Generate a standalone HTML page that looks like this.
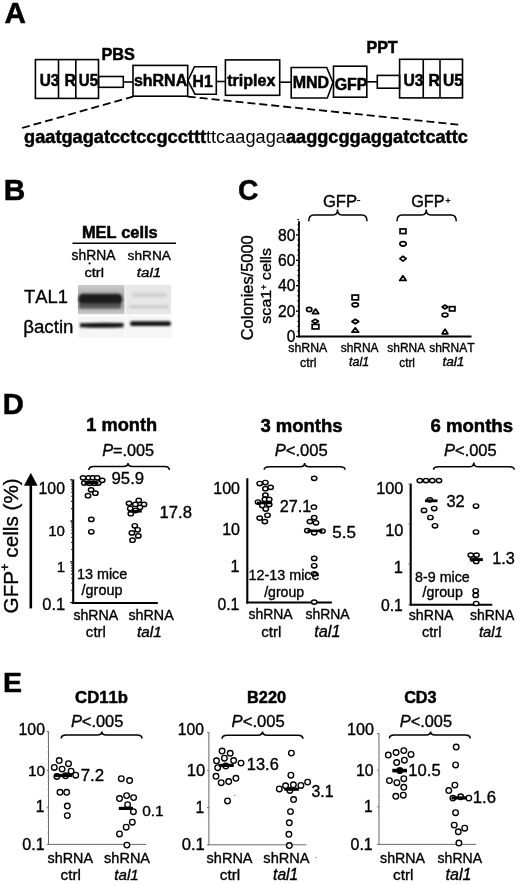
<!DOCTYPE html>
<html><head><meta charset="utf-8"><style>
html,body{margin:0;padding:0;background:#fff;}
svg{display:block;filter:grayscale(100%);}
text{font-family:"Liberation Sans",sans-serif;font-kerning:none;stroke:#000;stroke-width:0.35px;}
tspan[font-weight="bold"]{stroke-width:0.5px;}
tspan.n{stroke-width:0;}
</style></head><body>
<svg width="520" height="884" viewBox="0 0 520 884">
<rect x="0" y="0" width="520" height="884" fill="#fff"/>
<text transform="translate(4.56,22.90) scale(1.0000,1)" font-size="29.66" fill="#000"><tspan font-weight="bold" font-style="normal" y="-0.00">A</tspan></text>
<text transform="translate(101.41,59.80) scale(1.0000,1)" font-size="16.25" fill="#000"><tspan font-weight="bold" font-style="normal" y="-0.00">PBS</tspan></text>
<text transform="translate(366.43,53.00) scale(1.0000,1)" font-size="16.07" fill="#000"><tspan font-weight="bold" font-style="normal" y="-0.00">PPT</tspan></text>
<rect x="35.40" y="59.60" width="63.10" height="38.80" stroke="#000" stroke-width="1.60" fill="none"/>
<line x1="58.50" y1="59.60" x2="58.50" y2="98.40" stroke="#000" stroke-width="1.60" />
<line x1="75.80" y1="59.60" x2="75.80" y2="98.40" stroke="#000" stroke-width="1.60" />
<rect x="98.50" y="76.50" width="24.80" height="10.80" stroke="#000" stroke-width="1.60" fill="none"/>
<line x1="123.30" y1="82.00" x2="133.00" y2="82.00" stroke="#000" stroke-width="1.60" />
<rect x="133.00" y="65.40" width="54.70" height="30.80" stroke="#000" stroke-width="1.60" fill="none"/>
<polygon points="194.50,66.70 216.30,66.70 216.30,94.20 195.00,94.20 187.90,80.70" stroke="#000" stroke-width="1.60" fill="none" stroke-linejoin="miter"/>
<line x1="216.30" y1="81.50" x2="225.40" y2="81.50" stroke="#000" stroke-width="1.60" />
<rect x="225.40" y="59.90" width="54.30" height="35.40" stroke="#000" stroke-width="1.60" fill="none"/>
<line x1="279.70" y1="82.20" x2="291.20" y2="82.20" stroke="#000" stroke-width="1.60" />
<polygon points="291.20,67.50 326.70,67.50 333.00,82.50 327.30,98.00 291.20,98.00" stroke="#000" stroke-width="1.60" fill="none" stroke-linejoin="miter"/>
<rect x="333.50" y="66.20" width="33.30" height="31.00" stroke="#000" stroke-width="1.60" fill="none"/>
<line x1="366.80" y1="81.80" x2="377.30" y2="81.80" stroke="#000" stroke-width="1.60" />
<rect x="377.30" y="75.40" width="22.30" height="12.80" stroke="#000" stroke-width="1.60" fill="none"/>
<rect x="399.60" y="59.30" width="62.90" height="38.60" stroke="#000" stroke-width="1.60" fill="none"/>
<line x1="423.25" y1="59.30" x2="423.25" y2="97.90" stroke="#000" stroke-width="1.60" />
<line x1="440.00" y1="59.30" x2="440.00" y2="97.90" stroke="#000" stroke-width="1.60" />
<text transform="translate(39.68,85.90) scale(0.9504,1)" font-size="16.20" fill="#000"><tspan font-weight="bold" font-style="normal" y="-0.00">U3</tspan></text>
<text transform="translate(64.44,85.90) scale(0.9822,1)" font-size="16.20" fill="#000"><tspan font-weight="bold" font-style="normal" y="-0.00">R</tspan></text>
<text transform="translate(78.80,85.90) scale(0.9282,1)" font-size="16.20" fill="#000"><tspan font-weight="bold" font-style="normal" y="-0.00">U5</tspan></text>
<text transform="translate(133.94,86.20) scale(1.0000,1)" font-size="15.98" fill="#000"><tspan font-weight="bold" font-style="normal" y="-0.00">shRNA</tspan></text>
<text transform="translate(192.55,86.80) scale(1.0000,1)" font-size="15.71" fill="#000"><tspan font-weight="bold" font-style="normal" y="-0.00">H1</tspan></text>
<text transform="translate(227.20,86.40) scale(1.0000,1)" font-size="16.10" fill="#000"><tspan font-weight="bold" font-style="normal" y="-0.00">triplex</tspan></text>
<text transform="translate(292.73,87.70) scale(1.0000,1)" font-size="16.00" fill="#000"><tspan font-weight="bold" font-style="normal" y="-0.00">MND</tspan></text>
<text transform="translate(334.65,89.50) scale(1.0000,1)" font-size="15.96" fill="#000"><tspan font-weight="bold" font-style="normal" y="-0.00">GFP</tspan></text>
<text transform="translate(403.46,86.00) scale(0.9713,1)" font-size="16.20" fill="#000"><tspan font-weight="bold" font-style="normal" y="-0.00">U3</tspan></text>
<text transform="translate(428.55,86.00) scale(0.9725,1)" font-size="16.20" fill="#000"><tspan font-weight="bold" font-style="normal" y="-0.00">R</tspan></text>
<text transform="translate(443.06,86.00) scale(0.9645,1)" font-size="16.20" fill="#000"><tspan font-weight="bold" font-style="normal" y="-0.00">U5</tspan></text>
<line x1="22.00" y1="128.00" x2="133.00" y2="96.60" stroke="#000" stroke-width="1.80" stroke-dasharray="8,4"/>
<line x1="187.70" y1="96.60" x2="462.00" y2="125.00" stroke="#000" stroke-width="1.80" stroke-dasharray="8,4"/>
<text transform="translate(24.05,142.50) scale(0.9784,1)" font-size="18.60" fill="#000"><tspan font-weight="bold" font-style="normal" y="-0.00">gaatgagatcctccgccttt</tspan><tspan font-weight="normal" font-style="normal" y="-0.00" class="n">ttcaagaga</tspan><tspan font-weight="bold" font-style="normal" y="-0.00">aaggcggaggatctcattc</tspan></text>
<text transform="translate(3.80,200.20) scale(1.0000,1)" font-size="29.84" fill="#000"><tspan font-weight="bold" font-style="normal" y="-0.00">B</tspan></text>
<text transform="translate(81.90,238.00) scale(1.0000,1)" font-size="16.43" fill="#000"><tspan font-weight="bold" font-style="normal" y="-0.00">MEL cells</tspan></text>
<line x1="72.50" y1="243.30" x2="176.00" y2="243.30" stroke="#000" stroke-width="1.60" />
<circle cx="89.6" cy="263.4" r="1.15" fill="#111"/>
<text transform="translate(71.61,260.00) scale(1.0000,1)" font-size="13.86" fill="#000"><tspan font-weight="normal" font-style="normal" y="-0.00">shRNA</tspan></text>
<text transform="translate(84.38,277.00) scale(1.0897,1)" font-size="13.50" fill="#000"><tspan font-weight="normal" font-style="normal" y="-0.00">ctrl</tspan></text>
<text transform="translate(127.62,260.00) scale(1.0000,1)" font-size="13.70" fill="#000"><tspan font-weight="normal" font-style="normal" y="-0.00">shRNA</tspan></text>
<text transform="translate(136.81,277.00) scale(1.1243,1)" font-size="13.50" fill="#000"><tspan font-weight="normal" font-style="italic" y="-0.00">tal1</tspan></text>
<text transform="translate(24.09,302.50) scale(1.0000,1)" font-size="18.33" fill="#000"><tspan font-weight="normal" font-style="normal" y="-0.00">TAL1</tspan></text>
<text transform="translate(23.20,332.60) scale(1.0000,1)" font-size="18.72" fill="#000"><tspan font-weight="normal" font-style="normal" y="-0.00">βactin</tspan></text>
<defs>
<filter id="bl1" x="-20%" y="-50%" width="140%" height="200%"><feGaussianBlur stdDeviation="1.3"/></filter>
<filter id="bl2" x="-20%" y="-80%" width="140%" height="260%"><feGaussianBlur stdDeviation="0.9"/></filter>
<filter id="bl3" x="-20%" y="-80%" width="140%" height="260%"><feGaussianBlur stdDeviation="1.8"/></filter>
<filter id="bl4" x="-5%" y="-5%" width="110%" height="110%"><feGaussianBlur stdDeviation="0.5"/></filter>
<linearGradient id="gL" x1="0" y1="0" x2="0" y2="1">
<stop offset="0" stop-color="#cbcbcb"/><stop offset="0.25" stop-color="#b4b4b4"/><stop offset="0.75" stop-color="#a6a6a6"/><stop offset="1" stop-color="#cdcdcd"/></linearGradient>
</defs>
<g filter="url(#bl4)"><rect x="78" y="285" width="46.5" height="29.3" fill="url(#gL)"/><rect x="125.5" y="285" width="45.5" height="29.3" fill="#e7e7e7"/><rect x="78" y="316.3" width="46.5" height="21.5" fill="#f5f5f5"/><rect x="125.5" y="316.3" width="46" height="21.5" fill="#f6f6f6"/></g>
<g filter="url(#bl1)"><rect x="78.5" y="293.8" width="43.8" height="11" rx="4.5" fill="#1c1c1c"/><rect x="79" y="303.5" width="42" height="5" rx="2" fill="#555"/></g>
<g filter="url(#bl3)"><rect x="132" y="293" width="35" height="4" rx="2" fill="#cdcdcd"/><rect x="129" y="305.5" width="40" height="2.5" rx="1.2" fill="#c2c2c2"/></g>
<g filter="url(#bl2)"><path d="M80,323.2 Q101,322.2 123.5,323 L123.5,327.2 Q101,328.4 80,327.2 Z" fill="#161616"/><rect x="130" y="321.3" width="41" height="4.6" rx="2.2" fill="#161616"/></g>
<text transform="translate(238.04,199.70) scale(0.9624,1)" font-size="29.40" fill="#000"><tspan font-weight="bold" font-style="normal" y="-0.00">C</tspan></text>
<text transform="translate(322.91,207.00) scale(1.0000,1)" font-size="16.64" fill="#000"><tspan font-weight="normal" font-style="normal" y="-0.00">GFP</tspan></text>
<line x1="357.00" y1="200.60" x2="360.20" y2="200.60" stroke="#000" stroke-width="1.00" />
<text transform="translate(411.18,207.00) scale(1.0000,1)" font-size="16.26" fill="#000"><tspan font-weight="normal" font-style="normal" y="-0.00">GFP</tspan></text>
<line x1="445.60" y1="200.60" x2="450.40" y2="200.60" stroke="#000" stroke-width="1.00" />
<line x1="448.00" y1="198.20" x2="448.00" y2="203.00" stroke="#000" stroke-width="1.00" />
<path d="M308.75,221.25 Q308.75,215.00 313.75,215.00 L333.00,215.00 Q337.50,215.00 337.50,209.50 Q337.50,215.00 342.00,215.00 L362.00,215.00 Q367.00,215.00 367.00,221.25" stroke="#000" stroke-width="1.50" fill="none"/>
<path d="M397.00,221.25 Q397.00,215.00 402.00,215.00 L421.75,215.00 Q426.25,215.00 426.25,209.50 Q426.25,215.00 430.75,215.00 L451.25,215.00 Q456.25,215.00 456.25,221.25" stroke="#000" stroke-width="1.50" fill="none"/>
<line x1="299.00" y1="221.20" x2="299.00" y2="337.50" stroke="#000" stroke-width="1.80" />
<line x1="298.10" y1="336.40" x2="471.50" y2="336.40" stroke="#000" stroke-width="2.00" />
<line x1="296.00" y1="336.50" x2="299.00" y2="336.50" stroke="#000" stroke-width="1.40" />
<line x1="297.40" y1="331.42" x2="299.00" y2="331.42" stroke="#000" stroke-width="1.20" />
<line x1="297.40" y1="326.34" x2="299.00" y2="326.34" stroke="#000" stroke-width="1.20" />
<line x1="297.40" y1="321.26" x2="299.00" y2="321.26" stroke="#000" stroke-width="1.20" />
<line x1="297.40" y1="316.18" x2="299.00" y2="316.18" stroke="#000" stroke-width="1.20" />
<line x1="296.00" y1="311.10" x2="299.00" y2="311.10" stroke="#000" stroke-width="1.40" />
<line x1="297.40" y1="306.02" x2="299.00" y2="306.02" stroke="#000" stroke-width="1.20" />
<line x1="297.40" y1="300.94" x2="299.00" y2="300.94" stroke="#000" stroke-width="1.20" />
<line x1="297.40" y1="295.86" x2="299.00" y2="295.86" stroke="#000" stroke-width="1.20" />
<line x1="297.40" y1="290.78" x2="299.00" y2="290.78" stroke="#000" stroke-width="1.20" />
<line x1="296.00" y1="285.70" x2="299.00" y2="285.70" stroke="#000" stroke-width="1.40" />
<line x1="297.40" y1="280.62" x2="299.00" y2="280.62" stroke="#000" stroke-width="1.20" />
<line x1="297.40" y1="275.54" x2="299.00" y2="275.54" stroke="#000" stroke-width="1.20" />
<line x1="297.40" y1="270.46" x2="299.00" y2="270.46" stroke="#000" stroke-width="1.20" />
<line x1="297.40" y1="265.38" x2="299.00" y2="265.38" stroke="#000" stroke-width="1.20" />
<line x1="296.00" y1="260.30" x2="299.00" y2="260.30" stroke="#000" stroke-width="1.40" />
<line x1="297.40" y1="255.22" x2="299.00" y2="255.22" stroke="#000" stroke-width="1.20" />
<line x1="297.40" y1="250.14" x2="299.00" y2="250.14" stroke="#000" stroke-width="1.20" />
<line x1="297.40" y1="245.06" x2="299.00" y2="245.06" stroke="#000" stroke-width="1.20" />
<line x1="297.40" y1="239.98" x2="299.00" y2="239.98" stroke="#000" stroke-width="1.20" />
<line x1="296.00" y1="234.90" x2="299.00" y2="234.90" stroke="#000" stroke-width="1.40" />
<line x1="297.40" y1="229.82" x2="299.00" y2="229.82" stroke="#000" stroke-width="1.20" />
<line x1="297.40" y1="224.74" x2="299.00" y2="224.74" stroke="#000" stroke-width="1.20" />
<line x1="297.40" y1="219.66" x2="299.00" y2="219.66" stroke="#000" stroke-width="1.20" />
<text transform="translate(278.06,240.50) scale(1.0000,1)" font-size="15.60" fill="#000"><tspan font-weight="normal" font-style="normal" y="-0.00">80</tspan></text>
<text transform="translate(278.06,265.90) scale(1.0000,1)" font-size="15.60" fill="#000"><tspan font-weight="normal" font-style="normal" y="-0.00">60</tspan></text>
<text transform="translate(278.06,291.30) scale(1.0000,1)" font-size="15.60" fill="#000"><tspan font-weight="normal" font-style="normal" y="-0.00">40</tspan></text>
<text transform="translate(278.06,316.70) scale(1.0000,1)" font-size="15.60" fill="#000"><tspan font-weight="normal" font-style="normal" y="-0.00">20</tspan></text>
<text transform="translate(286.73,342.10) scale(1.0000,1)" font-size="15.60" fill="#000"><tspan font-weight="normal" font-style="normal" y="-0.00">0</tspan></text>
<text transform="translate(252.60,340.23) rotate(-90) scale(0.9998,1)" font-size="16.42"><tspan font-weight="normal" font-style="normal" y="-0.00">Colonies/5000</tspan></text>
<text transform="translate(271.20,323.65) rotate(-90) scale(1.0559,1)" font-size="15.20"><tspan font-weight="normal" font-style="normal" y="-0.00">sca1</tspan><tspan font-weight="normal" font-style="normal" y="-4.56" font-size="8.36">+</tspan><tspan font-weight="normal" font-style="normal" y="-0.00"> cells</tspan></text>
<text transform="translate(288.36,352.30) scale(1.0000,1)" font-size="12.30" fill="#000"><tspan font-weight="normal" font-style="normal" y="-0.00">shRNA</tspan></text>
<text transform="translate(299.97,367.00) scale(0.9769,1)" font-size="12.80" fill="#000"><tspan font-weight="normal" font-style="normal" y="-0.00">ctrl</tspan></text>
<text transform="translate(340.67,352.30) scale(1.0000,1)" font-size="11.95" fill="#000"><tspan font-weight="normal" font-style="normal" y="-0.00">shRNA</tspan></text>
<text transform="translate(349.04,366.40) scale(0.9697,1)" font-size="12.80" fill="#000"><tspan font-weight="normal" font-style="italic" y="-0.00">tal1</tspan></text>
<text transform="translate(387.37,352.30) scale(1.0000,1)" font-size="11.95" fill="#000"><tspan font-weight="normal" font-style="normal" y="-0.00">shRNA</tspan></text>
<text transform="translate(399.30,367.00) scale(0.9194,1)" font-size="12.80" fill="#000"><tspan font-weight="normal" font-style="normal" y="-0.00">ctrl</tspan></text>
<text transform="translate(429.17,352.30) scale(1.0000,1)" font-size="11.99" fill="#000"><tspan font-weight="normal" font-style="normal" y="-0.00">shRNAT</tspan></text>
<text transform="translate(442.38,366.40) scale(1.0698,1)" font-size="12.80" fill="#000"><tspan font-weight="normal" font-style="italic" y="-0.00">tal1</tspan></text>
<ellipse cx="309.20" cy="309.50" rx="2.65" ry="2.15" stroke="#000" stroke-width="1.70" fill="#fff"/>
<polygon points="315.60,308.85 318.75,313.55 312.45,313.55" stroke="#000" stroke-width="1.70" fill="#fff" stroke-linejoin="round"/>
<polygon points="315.20,319.15 318.45,321.30 315.20,323.45 311.95,321.30" stroke="#000" stroke-width="1.70" fill="#fff" stroke-linejoin="round"/>
<rect x="312.15" y="324.45" width="6.70" height="4.50" stroke="#000" stroke-width="1.70" fill="#fff"/>
<rect x="352.05" y="295.05" width="6.40" height="4.80" stroke="#000" stroke-width="1.70" fill="#fff"/>
<ellipse cx="355.25" cy="304.85" rx="3.20" ry="1.95" stroke="#000" stroke-width="1.70" fill="#fff"/>
<polygon points="355.30,319.20 358.70,321.50 355.30,323.80 351.90,321.50" stroke="#000" stroke-width="1.70" fill="#fff" stroke-linejoin="round"/>
<polygon points="355.30,327.80 358.70,332.20 351.90,332.20" stroke="#000" stroke-width="1.70" fill="#fff" stroke-linejoin="round"/>
<rect x="400.05" y="228.95" width="5.90" height="4.60" stroke="#000" stroke-width="1.70" fill="#fff"/>
<ellipse cx="403.00" cy="243.80" rx="3.15" ry="2.25" stroke="#000" stroke-width="1.70" fill="#fff"/>
<polygon points="403.00,256.25 406.15,258.70 403.00,261.15 399.85,258.70" stroke="#000" stroke-width="1.70" fill="#fff" stroke-linejoin="round"/>
<polygon points="402.90,275.75 406.15,280.45 399.65,280.45" stroke="#000" stroke-width="1.70" fill="#fff" stroke-linejoin="round"/>
<polygon points="445.00,305.05 447.85,307.00 445.00,308.95 442.15,307.00" stroke="#000" stroke-width="1.70" fill="#fff" stroke-linejoin="round"/>
<rect x="449.45" y="306.65" width="5.50" height="4.30" stroke="#000" stroke-width="1.70" fill="#fff"/>
<ellipse cx="445.00" cy="314.90" rx="2.90" ry="1.90" stroke="#000" stroke-width="1.70" fill="#fff"/>
<polygon points="445.00,329.20 447.90,333.80 442.10,333.80" stroke="#000" stroke-width="1.70" fill="#fff" stroke-linejoin="round"/>
<text transform="translate(2.85,414.00) scale(1.0000,1)" font-size="29.19" fill="#000"><tspan font-weight="bold" font-style="normal" y="-0.00">D</tspan></text>
<line x1="30.80" y1="484.00" x2="30.80" y2="608.40" stroke="#000" stroke-width="2.60" />
<polygon points="30.80,473.40 37.20,485.40 24.40,485.40" stroke="#000" stroke-width="0.60" fill="#000" stroke-linejoin="miter"/>
<text transform="translate(18.10,613.44) rotate(-90) scale(0.9863,1)" font-size="21.00"><tspan font-weight="normal" font-style="normal" y="-0.00">GFP</tspan><tspan font-weight="normal" font-style="normal" y="-8.82" font-size="13.02">+</tspan><tspan font-weight="normal" font-style="normal" y="-0.00"> cells (%)</tspan></text>
<text transform="translate(86.25,431.20) scale(1.0000,1)" font-size="18.23" fill="#000"><tspan font-weight="bold" font-style="normal" y="-0.00">1 month</tspan></text>
<text transform="translate(102.20,456.20) scale(1.0000,1)" font-size="16.26" fill="#000"><tspan font-weight="normal" font-style="italic" y="-0.00">P</tspan><tspan font-weight="normal" font-style="normal" y="-0.00">=.005</tspan></text>
<path d="M88.80,470.00 Q88.80,466.50 93.80,466.50 L123.50,466.50 Q128.00,466.50 128.00,463.00 Q128.00,466.50 132.50,466.50 L164.40,466.50 Q169.40,466.50 169.40,470.00" stroke="#000" stroke-width="1.50" fill="none"/>
<line x1="73.20" y1="479.40" x2="73.20" y2="604.00" stroke="#000" stroke-width="2.10" />
<line x1="72.20" y1="603.00" x2="157.80" y2="603.00" stroke="#000" stroke-width="2.10" />
<line x1="70.30" y1="479.80" x2="72.20" y2="479.80" stroke="#000" stroke-width="1.30" />
<line x1="70.30" y1="521.00" x2="72.20" y2="521.00" stroke="#000" stroke-width="1.30" />
<line x1="70.30" y1="561.80" x2="72.20" y2="561.80" stroke="#000" stroke-width="1.30" />
<line x1="70.30" y1="602.60" x2="72.20" y2="602.60" stroke="#000" stroke-width="1.30" />
<line x1="71.20" y1="508.60" x2="72.20" y2="508.60" stroke="#000" stroke-width="1.10" />
<line x1="71.20" y1="501.34" x2="72.20" y2="501.34" stroke="#000" stroke-width="1.10" />
<line x1="71.20" y1="496.20" x2="72.20" y2="496.20" stroke="#000" stroke-width="1.10" />
<line x1="71.20" y1="492.20" x2="72.20" y2="492.20" stroke="#000" stroke-width="1.10" />
<line x1="71.20" y1="488.94" x2="72.20" y2="488.94" stroke="#000" stroke-width="1.10" />
<line x1="71.20" y1="486.18" x2="72.20" y2="486.18" stroke="#000" stroke-width="1.10" />
<line x1="71.20" y1="483.79" x2="72.20" y2="483.79" stroke="#000" stroke-width="1.10" />
<line x1="71.20" y1="481.69" x2="72.20" y2="481.69" stroke="#000" stroke-width="1.10" />
<line x1="71.20" y1="549.52" x2="72.20" y2="549.52" stroke="#000" stroke-width="1.10" />
<line x1="71.20" y1="542.33" x2="72.20" y2="542.33" stroke="#000" stroke-width="1.10" />
<line x1="71.20" y1="537.24" x2="72.20" y2="537.24" stroke="#000" stroke-width="1.10" />
<line x1="71.20" y1="533.28" x2="72.20" y2="533.28" stroke="#000" stroke-width="1.10" />
<line x1="71.20" y1="530.05" x2="72.20" y2="530.05" stroke="#000" stroke-width="1.10" />
<line x1="71.20" y1="527.32" x2="72.20" y2="527.32" stroke="#000" stroke-width="1.10" />
<line x1="71.20" y1="524.95" x2="72.20" y2="524.95" stroke="#000" stroke-width="1.10" />
<line x1="71.20" y1="522.87" x2="72.20" y2="522.87" stroke="#000" stroke-width="1.10" />
<line x1="71.20" y1="590.32" x2="72.20" y2="590.32" stroke="#000" stroke-width="1.10" />
<line x1="71.20" y1="583.13" x2="72.20" y2="583.13" stroke="#000" stroke-width="1.10" />
<line x1="71.20" y1="578.04" x2="72.20" y2="578.04" stroke="#000" stroke-width="1.10" />
<line x1="71.20" y1="574.08" x2="72.20" y2="574.08" stroke="#000" stroke-width="1.10" />
<line x1="71.20" y1="570.85" x2="72.20" y2="570.85" stroke="#000" stroke-width="1.10" />
<line x1="71.20" y1="568.12" x2="72.20" y2="568.12" stroke="#000" stroke-width="1.10" />
<line x1="71.20" y1="565.75" x2="72.20" y2="565.75" stroke="#000" stroke-width="1.10" />
<line x1="71.20" y1="563.67" x2="72.20" y2="563.67" stroke="#000" stroke-width="1.10" />
<text transform="translate(38.60,493.70) scale(1.0000,1)" font-size="15.77" fill="#000"><tspan font-weight="normal" font-style="normal" y="-0.00">100</tspan></text>
<text transform="translate(48.15,535.50) scale(1.0000,1)" font-size="15.04" fill="#000"><tspan font-weight="normal" font-style="normal" y="-0.00">10</tspan></text>
<text transform="translate(56.67,572.00) scale(1.0000,1)" font-size="15.04" fill="#000"><tspan font-weight="normal" font-style="normal" y="-0.00">1</tspan></text>
<text transform="translate(42.26,609.70) scale(1.0000,1)" font-size="16.43" fill="#000"><tspan font-weight="normal" font-style="normal" y="-0.00">0.1</tspan></text>
<ellipse cx="89.50" cy="483.30" rx="2.70" ry="2.15" stroke="#000" stroke-width="1.45" fill="#fff"/>
<ellipse cx="94.50" cy="483.30" rx="2.70" ry="2.15" stroke="#000" stroke-width="1.45" fill="#fff"/>
<ellipse cx="98.30" cy="483.00" rx="2.70" ry="2.15" stroke="#000" stroke-width="1.45" fill="#fff"/>
<ellipse cx="83.10" cy="477.80" rx="2.70" ry="2.15" stroke="#000" stroke-width="1.45" fill="#fff"/>
<ellipse cx="88.60" cy="477.80" rx="2.70" ry="2.15" stroke="#000" stroke-width="1.45" fill="#fff"/>
<ellipse cx="92.90" cy="477.80" rx="2.70" ry="2.15" stroke="#000" stroke-width="1.45" fill="#fff"/>
<ellipse cx="97.20" cy="477.80" rx="2.70" ry="2.15" stroke="#000" stroke-width="1.45" fill="#fff"/>
<ellipse cx="102.20" cy="480.30" rx="2.70" ry="2.15" stroke="#000" stroke-width="1.45" fill="#fff"/>
<ellipse cx="84.30" cy="483.10" rx="2.70" ry="2.15" stroke="#000" stroke-width="1.45" fill="#fff"/>
<ellipse cx="91.10" cy="489.80" rx="2.70" ry="2.15" stroke="#000" stroke-width="1.45" fill="#fff"/>
<ellipse cx="95.40" cy="493.20" rx="2.70" ry="2.15" stroke="#000" stroke-width="1.45" fill="#fff"/>
<ellipse cx="88.00" cy="495.70" rx="2.70" ry="2.15" stroke="#000" stroke-width="1.45" fill="#fff"/>
<ellipse cx="91.30" cy="519.40" rx="2.70" ry="2.15" stroke="#000" stroke-width="1.45" fill="#fff"/>
<ellipse cx="91.30" cy="531.80" rx="2.70" ry="2.15" stroke="#000" stroke-width="1.45" fill="#fff"/>
<line x1="84.50" y1="483.00" x2="98.50" y2="483.00" stroke="#000" stroke-width="2.60" />
<ellipse cx="135.50" cy="510.50" rx="2.70" ry="2.15" stroke="#000" stroke-width="1.45" fill="#fff"/>
<ellipse cx="129.00" cy="503.30" rx="2.70" ry="2.15" stroke="#000" stroke-width="1.45" fill="#fff"/>
<ellipse cx="138.80" cy="500.40" rx="2.70" ry="2.15" stroke="#000" stroke-width="1.45" fill="#fff"/>
<ellipse cx="135.40" cy="504.40" rx="2.70" ry="2.15" stroke="#000" stroke-width="1.45" fill="#fff"/>
<ellipse cx="144.00" cy="504.40" rx="2.70" ry="2.15" stroke="#000" stroke-width="1.45" fill="#fff"/>
<ellipse cx="130.20" cy="508.50" rx="2.70" ry="2.15" stroke="#000" stroke-width="1.45" fill="#fff"/>
<ellipse cx="140.00" cy="507.30" rx="2.70" ry="2.15" stroke="#000" stroke-width="1.45" fill="#fff"/>
<ellipse cx="130.80" cy="513.70" rx="2.70" ry="2.15" stroke="#000" stroke-width="1.45" fill="#fff"/>
<ellipse cx="134.80" cy="525.80" rx="2.70" ry="2.15" stroke="#000" stroke-width="1.45" fill="#fff"/>
<ellipse cx="137.70" cy="529.80" rx="2.70" ry="2.15" stroke="#000" stroke-width="1.45" fill="#fff"/>
<ellipse cx="131.90" cy="532.90" rx="2.70" ry="2.15" stroke="#000" stroke-width="1.45" fill="#fff"/>
<ellipse cx="138.30" cy="535.90" rx="2.70" ry="2.15" stroke="#000" stroke-width="1.45" fill="#fff"/>
<ellipse cx="132.50" cy="540.20" rx="2.70" ry="2.15" stroke="#000" stroke-width="1.45" fill="#fff"/>
<line x1="128.50" y1="511.30" x2="141.70" y2="511.30" stroke="#000" stroke-width="2.60" />
<text transform="translate(111.51,484.40) scale(1.0000,1)" font-size="16.79" fill="#000"><tspan font-weight="normal" font-style="normal" y="-0.00">95.9</tspan></text>
<text transform="translate(159.43,517.80) scale(1.0000,1)" font-size="16.70" fill="#000"><tspan font-weight="normal" font-style="normal" y="-0.00">17.8</tspan></text>
<text transform="translate(76.90,579.00) scale(1.0000,1)" font-size="14.40" fill="#000"><tspan font-weight="normal" font-style="normal" y="-0.00">13 mice</tspan></text>
<text transform="translate(81.60,594.90) scale(1.0279,1)" font-size="14.00" fill="#000"><tspan font-weight="normal" font-style="normal" y="-0.00">/group</tspan></text>
<text transform="translate(73.41,620.30) scale(1.0000,1)" font-size="14.15" fill="#000"><tspan font-weight="normal" font-style="normal" y="-0.00">shRNA</tspan></text>
<text transform="translate(85.86,637.20) scale(1.0000,1)" font-size="15.04" fill="#000"><tspan font-weight="normal" font-style="normal" y="-0.00">ctrl</tspan></text>
<text transform="translate(128.40,619.60) scale(1.0000,1)" font-size="14.31" fill="#000"><tspan font-weight="normal" font-style="normal" y="-0.00">shRNA</tspan></text>
<text transform="translate(137.00,636.60) scale(1.0000,1)" font-size="15.38" fill="#000"><tspan font-weight="normal" font-style="italic" y="-0.00">tal1</tspan></text>
<text transform="translate(260.38,432.20) scale(1.0000,1)" font-size="18.51" fill="#000"><tspan font-weight="bold" font-style="normal" y="-0.00">3 months</tspan></text>
<text transform="translate(274.69,456.20) scale(1.0000,1)" font-size="16.61" fill="#000"><tspan font-weight="normal" font-style="italic" y="-0.00">P</tspan><tspan font-weight="normal" font-style="normal" y="-0.00">&lt;.005</tspan></text>
<path d="M264.20,469.70 Q264.20,466.80 269.20,466.80 L300.10,466.80 Q304.60,466.80 304.60,463.00 Q304.60,466.80 309.10,466.80 L340.00,466.80 Q345.00,466.80 345.00,469.70" stroke="#000" stroke-width="1.50" fill="none"/>
<line x1="247.30" y1="478.20" x2="247.30" y2="603.50" stroke="#000" stroke-width="2.10" />
<line x1="246.30" y1="602.50" x2="331.90" y2="602.50" stroke="#000" stroke-width="2.10" />
<text transform="translate(213.28,494.30) scale(1.0000,1)" font-size="16.03" fill="#000"><tspan font-weight="normal" font-style="normal" y="-0.00">100</tspan></text>
<text transform="translate(222.18,535.20) scale(1.0000,1)" font-size="16.05" fill="#000"><tspan font-weight="normal" font-style="normal" y="-0.00">10</tspan></text>
<text transform="translate(230.46,571.60) scale(1.0000,1)" font-size="16.05" fill="#000"><tspan font-weight="normal" font-style="normal" y="-0.00">1</tspan></text>
<text transform="translate(217.49,609.70) scale(1.0000,1)" font-size="15.74" fill="#000"><tspan font-weight="normal" font-style="normal" y="-0.00">0.1</tspan></text>
<ellipse cx="259.70" cy="483.50" rx="2.70" ry="2.15" stroke="#000" stroke-width="1.45" fill="#fff"/>
<ellipse cx="265.40" cy="482.50" rx="2.70" ry="2.15" stroke="#000" stroke-width="1.45" fill="#fff"/>
<ellipse cx="265.40" cy="488.70" rx="2.70" ry="2.15" stroke="#000" stroke-width="1.45" fill="#fff"/>
<ellipse cx="270.60" cy="487.30" rx="2.70" ry="2.15" stroke="#000" stroke-width="1.45" fill="#fff"/>
<ellipse cx="265.40" cy="495.10" rx="2.70" ry="2.15" stroke="#000" stroke-width="1.45" fill="#fff"/>
<ellipse cx="264.90" cy="499.40" rx="2.70" ry="2.15" stroke="#000" stroke-width="1.45" fill="#fff"/>
<ellipse cx="269.20" cy="499.40" rx="2.70" ry="2.15" stroke="#000" stroke-width="1.45" fill="#fff"/>
<ellipse cx="258.00" cy="502.00" rx="2.70" ry="2.15" stroke="#000" stroke-width="1.45" fill="#fff"/>
<ellipse cx="262.30" cy="505.50" rx="2.70" ry="2.15" stroke="#000" stroke-width="1.45" fill="#fff"/>
<ellipse cx="269.20" cy="504.60" rx="2.70" ry="2.15" stroke="#000" stroke-width="1.45" fill="#fff"/>
<ellipse cx="265.80" cy="509.00" rx="2.70" ry="2.15" stroke="#000" stroke-width="1.45" fill="#fff"/>
<ellipse cx="267.50" cy="515.30" rx="2.70" ry="2.15" stroke="#000" stroke-width="1.45" fill="#fff"/>
<ellipse cx="259.70" cy="518.10" rx="2.70" ry="2.15" stroke="#000" stroke-width="1.45" fill="#fff"/>
<ellipse cx="264.90" cy="521.60" rx="2.70" ry="2.15" stroke="#000" stroke-width="1.45" fill="#fff"/>
<line x1="257.00" y1="502.90" x2="271.80" y2="502.90" stroke="#000" stroke-width="2.60" />
<ellipse cx="314.20" cy="478.30" rx="2.70" ry="2.15" stroke="#000" stroke-width="1.45" fill="#fff"/>
<ellipse cx="313.90" cy="507.20" rx="2.70" ry="2.15" stroke="#000" stroke-width="1.45" fill="#fff"/>
<ellipse cx="314.20" cy="517.60" rx="2.70" ry="2.15" stroke="#000" stroke-width="1.45" fill="#fff"/>
<ellipse cx="309.90" cy="521.60" rx="2.70" ry="2.15" stroke="#000" stroke-width="1.45" fill="#fff"/>
<ellipse cx="316.00" cy="522.80" rx="2.70" ry="2.15" stroke="#000" stroke-width="1.45" fill="#fff"/>
<ellipse cx="307.30" cy="530.60" rx="2.70" ry="2.15" stroke="#000" stroke-width="1.45" fill="#fff"/>
<ellipse cx="314.20" cy="532.80" rx="2.70" ry="2.15" stroke="#000" stroke-width="1.45" fill="#fff"/>
<ellipse cx="322.50" cy="531.00" rx="2.70" ry="2.15" stroke="#000" stroke-width="1.45" fill="#fff"/>
<ellipse cx="314.20" cy="558.40" rx="2.70" ry="2.15" stroke="#000" stroke-width="1.45" fill="#fff"/>
<ellipse cx="314.20" cy="565.80" rx="2.70" ry="2.15" stroke="#000" stroke-width="1.45" fill="#fff"/>
<ellipse cx="314.20" cy="573.80" rx="2.70" ry="2.15" stroke="#000" stroke-width="1.45" fill="#fff"/>
<ellipse cx="314.20" cy="602.10" rx="2.70" ry="2.15" stroke="#000" stroke-width="1.45" fill="#fff"/>
<line x1="307.50" y1="530.80" x2="322.50" y2="530.80" stroke="#000" stroke-width="2.60" />
<text transform="translate(279.69,511.50) scale(1.0000,1)" font-size="16.19" fill="#000"><tspan font-weight="normal" font-style="normal" y="-0.00">27.1</tspan></text>
<text transform="translate(332.32,537.50) scale(1.0000,1)" font-size="17.05" fill="#000"><tspan font-weight="normal" font-style="normal" y="-0.00">5.5</tspan></text>
<text transform="translate(248.61,580.30) scale(1.0000,1)" font-size="14.34" fill="#000"><tspan font-weight="normal" font-style="normal" y="-0.00">12-13 mice</tspan></text>
<text transform="translate(264.20,596.90) scale(1.0049,1)" font-size="14.00" fill="#000"><tspan font-weight="normal" font-style="normal" y="-0.00">/group</tspan></text>
<text transform="translate(248.41,618.90) scale(1.0000,1)" font-size="13.96" fill="#000"><tspan font-weight="normal" font-style="normal" y="-0.00">shRNA</tspan></text>
<text transform="translate(261.26,636.60) scale(1.0000,1)" font-size="15.12" fill="#000"><tspan font-weight="normal" font-style="normal" y="-0.00">ctrl</tspan></text>
<text transform="translate(305.41,618.90) scale(1.0000,1)" font-size="13.96" fill="#000"><tspan font-weight="normal" font-style="normal" y="-0.00">shRNA</tspan></text>
<text transform="translate(314.26,636.60) scale(1.0000,1)" font-size="16.32" fill="#000"><tspan font-weight="normal" font-style="italic" y="-0.00">tal1</tspan></text>
<text transform="translate(430.52,432.20) scale(1.0000,1)" font-size="18.57" fill="#000"><tspan font-weight="bold" font-style="normal" y="-0.00">6 months</tspan></text>
<text transform="translate(444.09,455.80) scale(1.0000,1)" font-size="16.45" fill="#000"><tspan font-weight="normal" font-style="italic" y="-0.00">P</tspan><tspan font-weight="normal" font-style="normal" y="-0.00">&lt;.005</tspan></text>
<path d="M433.50,469.70 Q433.50,466.80 438.50,466.80 L469.30,466.80 Q473.80,466.80 473.80,462.40 Q473.80,466.80 478.30,466.80 L509.20,466.80 Q514.20,466.80 514.20,469.70" stroke="#000" stroke-width="1.50" fill="none"/>
<line x1="410.70" y1="483.60" x2="410.70" y2="605.70" stroke="#000" stroke-width="2.10" />
<line x1="409.70" y1="604.70" x2="492.30" y2="604.70" stroke="#000" stroke-width="2.10" />
<line x1="408.30" y1="484.00" x2="409.70" y2="484.00" stroke="#777" stroke-width="1.10" />
<line x1="408.30" y1="524.00" x2="409.70" y2="524.00" stroke="#777" stroke-width="1.10" />
<line x1="408.30" y1="564.00" x2="409.70" y2="564.00" stroke="#777" stroke-width="1.10" />
<line x1="408.30" y1="604.50" x2="409.70" y2="604.50" stroke="#777" stroke-width="1.10" />
<line x1="409.00" y1="511.96" x2="409.70" y2="511.96" stroke="#777" stroke-width="0.90" />
<line x1="409.00" y1="504.92" x2="409.70" y2="504.92" stroke="#777" stroke-width="0.90" />
<line x1="409.00" y1="499.92" x2="409.70" y2="499.92" stroke="#777" stroke-width="0.90" />
<line x1="409.00" y1="496.04" x2="409.70" y2="496.04" stroke="#777" stroke-width="0.90" />
<line x1="409.00" y1="492.87" x2="409.70" y2="492.87" stroke="#777" stroke-width="0.90" />
<line x1="409.00" y1="490.20" x2="409.70" y2="490.20" stroke="#777" stroke-width="0.90" />
<line x1="409.00" y1="487.88" x2="409.70" y2="487.88" stroke="#777" stroke-width="0.90" />
<line x1="409.00" y1="485.83" x2="409.70" y2="485.83" stroke="#777" stroke-width="0.90" />
<line x1="409.00" y1="551.96" x2="409.70" y2="551.96" stroke="#777" stroke-width="0.90" />
<line x1="409.00" y1="544.92" x2="409.70" y2="544.92" stroke="#777" stroke-width="0.90" />
<line x1="409.00" y1="539.92" x2="409.70" y2="539.92" stroke="#777" stroke-width="0.90" />
<line x1="409.00" y1="536.04" x2="409.70" y2="536.04" stroke="#777" stroke-width="0.90" />
<line x1="409.00" y1="532.87" x2="409.70" y2="532.87" stroke="#777" stroke-width="0.90" />
<line x1="409.00" y1="530.20" x2="409.70" y2="530.20" stroke="#777" stroke-width="0.90" />
<line x1="409.00" y1="527.88" x2="409.70" y2="527.88" stroke="#777" stroke-width="0.90" />
<line x1="409.00" y1="525.83" x2="409.70" y2="525.83" stroke="#777" stroke-width="0.90" />
<line x1="409.00" y1="592.31" x2="409.70" y2="592.31" stroke="#777" stroke-width="0.90" />
<line x1="409.00" y1="585.18" x2="409.70" y2="585.18" stroke="#777" stroke-width="0.90" />
<line x1="409.00" y1="580.12" x2="409.70" y2="580.12" stroke="#777" stroke-width="0.90" />
<line x1="409.00" y1="576.19" x2="409.70" y2="576.19" stroke="#777" stroke-width="0.90" />
<line x1="409.00" y1="572.98" x2="409.70" y2="572.98" stroke="#777" stroke-width="0.90" />
<line x1="409.00" y1="570.27" x2="409.70" y2="570.27" stroke="#777" stroke-width="0.90" />
<line x1="409.00" y1="567.92" x2="409.70" y2="567.92" stroke="#777" stroke-width="0.90" />
<line x1="409.00" y1="565.85" x2="409.70" y2="565.85" stroke="#777" stroke-width="0.90" />
<text transform="translate(376.15,493.80) scale(1.0000,1)" font-size="16.35" fill="#000"><tspan font-weight="normal" font-style="normal" y="-0.00">100</tspan></text>
<text transform="translate(385.15,535.60) scale(1.0000,1)" font-size="16.45" fill="#000"><tspan font-weight="normal" font-style="normal" y="-0.00">10</tspan></text>
<text transform="translate(393.66,572.50) scale(1.0000,1)" font-size="16.45" fill="#000"><tspan font-weight="normal" font-style="normal" y="-0.00">1</tspan></text>
<text transform="translate(380.89,610.70) scale(1.0000,1)" font-size="15.74" fill="#000"><tspan font-weight="normal" font-style="normal" y="-0.00">0.1</tspan></text>
<ellipse cx="419.80" cy="480.60" rx="2.70" ry="2.15" stroke="#000" stroke-width="1.45" fill="#fff"/>
<ellipse cx="426.00" cy="480.60" rx="2.70" ry="2.15" stroke="#000" stroke-width="1.45" fill="#fff"/>
<ellipse cx="432.30" cy="480.60" rx="2.70" ry="2.15" stroke="#000" stroke-width="1.45" fill="#fff"/>
<ellipse cx="439.00" cy="480.60" rx="2.70" ry="2.15" stroke="#000" stroke-width="1.45" fill="#fff"/>
<ellipse cx="429.80" cy="499.80" rx="2.70" ry="2.15" stroke="#000" stroke-width="1.45" fill="#fff"/>
<ellipse cx="424.00" cy="510.40" rx="2.70" ry="2.15" stroke="#000" stroke-width="1.45" fill="#fff"/>
<ellipse cx="434.20" cy="508.50" rx="2.70" ry="2.15" stroke="#000" stroke-width="1.45" fill="#fff"/>
<ellipse cx="430.40" cy="517.50" rx="2.70" ry="2.15" stroke="#000" stroke-width="1.45" fill="#fff"/>
<ellipse cx="435.00" cy="525.80" rx="2.70" ry="2.15" stroke="#000" stroke-width="1.45" fill="#fff"/>
<line x1="425.00" y1="500.80" x2="437.50" y2="500.80" stroke="#000" stroke-width="2.80" />
<ellipse cx="476.00" cy="506.00" rx="2.70" ry="2.15" stroke="#000" stroke-width="1.45" fill="#fff"/>
<ellipse cx="476.00" cy="532.00" rx="2.70" ry="2.15" stroke="#000" stroke-width="1.45" fill="#fff"/>
<ellipse cx="470.80" cy="555.10" rx="2.70" ry="2.15" stroke="#000" stroke-width="1.45" fill="#fff"/>
<ellipse cx="476.50" cy="555.10" rx="2.70" ry="2.15" stroke="#000" stroke-width="1.45" fill="#fff"/>
<ellipse cx="473.00" cy="559.00" rx="2.70" ry="2.15" stroke="#000" stroke-width="1.45" fill="#fff"/>
<ellipse cx="476.20" cy="561.50" rx="2.70" ry="2.15" stroke="#000" stroke-width="1.45" fill="#fff"/>
<ellipse cx="475.70" cy="590.80" rx="2.70" ry="2.15" stroke="#000" stroke-width="1.45" fill="#fff"/>
<ellipse cx="475.70" cy="595.40" rx="2.70" ry="2.15" stroke="#000" stroke-width="1.45" fill="#fff"/>
<ellipse cx="476.20" cy="603.50" rx="2.70" ry="2.15" stroke="#000" stroke-width="1.45" fill="#fff"/>
<line x1="471.10" y1="559.60" x2="482.90" y2="559.60" stroke="#000" stroke-width="3.00" />
<text transform="translate(446.38,507.00) scale(1.0000,1)" font-size="16.41" fill="#000"><tspan font-weight="normal" font-style="normal" y="-0.00">32</tspan></text>
<text transform="translate(492.26,564.20) scale(1.0000,1)" font-size="16.30" fill="#000"><tspan font-weight="normal" font-style="normal" y="-0.00">1.3</tspan></text>
<text transform="translate(415.08,581.60) scale(1.0000,1)" font-size="14.28" fill="#000"><tspan font-weight="normal" font-style="normal" y="-0.00">8-9 mice</tspan></text>
<text transform="translate(422.60,597.30) scale(1.0151,1)" font-size="14.00" fill="#000"><tspan font-weight="normal" font-style="normal" y="-0.00">/group</tspan></text>
<text transform="translate(408.81,619.90) scale(1.0000,1)" font-size="14.12" fill="#000"><tspan font-weight="normal" font-style="normal" y="-0.00">shRNA</tspan></text>
<text transform="translate(421.98,636.50) scale(1.0000,1)" font-size="14.55" fill="#000"><tspan font-weight="normal" font-style="normal" y="-0.00">ctrl</tspan></text>
<text transform="translate(470.01,619.90) scale(1.0000,1)" font-size="13.96" fill="#000"><tspan font-weight="normal" font-style="normal" y="-0.00">shRNA</tspan></text>
<text transform="translate(478.93,636.50) scale(1.0000,1)" font-size="14.77" fill="#000"><tspan font-weight="normal" font-style="italic" y="-0.00">tal1</tspan></text>
<text transform="translate(2.89,691.50) scale(1.0000,1)" font-size="28.52" fill="#000"><tspan font-weight="bold" font-style="normal" y="-0.00">E</tspan></text>
<text transform="translate(75.12,703.10) scale(1.0000,1)" font-size="16.66" fill="#000"><tspan font-weight="bold" font-style="normal" y="-0.00">CD11b</tspan></text>
<text transform="translate(70.90,726.60) scale(1.0000,1)" font-size="16.39" fill="#000"><tspan font-weight="normal" font-style="italic" y="-0.00">P</tspan><tspan font-weight="normal" font-style="normal" y="-0.00">&lt;.005</tspan></text>
<path d="M61.20,738.60 Q61.20,735.00 66.20,735.00 L97.30,735.00 Q101.80,735.00 101.80,731.60 Q101.80,735.00 106.30,735.00 L137.00,735.00 Q142.00,735.00 142.00,738.60" stroke="#000" stroke-width="1.60" fill="none"/>
<line x1="48.50" y1="731.40" x2="48.50" y2="844.90" stroke="#6a6a6a" stroke-width="1.00" />
<line x1="48.00" y1="844.40" x2="146.20" y2="844.40" stroke="#6a6a6a" stroke-width="1.00" />
<line x1="46.70" y1="731.60" x2="48.50" y2="731.60" stroke="#6a6a6a" stroke-width="1.00" />
<line x1="46.70" y1="770.30" x2="48.50" y2="770.30" stroke="#6a6a6a" stroke-width="1.00" />
<line x1="46.70" y1="807.20" x2="48.50" y2="807.20" stroke="#6a6a6a" stroke-width="1.00" />
<line x1="46.70" y1="844.40" x2="48.50" y2="844.40" stroke="#6a6a6a" stroke-width="1.00" />
<line x1="47.50" y1="758.65" x2="48.50" y2="758.65" stroke="#999" stroke-width="0.80" />
<line x1="47.50" y1="751.84" x2="48.50" y2="751.84" stroke="#999" stroke-width="0.80" />
<line x1="47.50" y1="747.00" x2="48.50" y2="747.00" stroke="#999" stroke-width="0.80" />
<line x1="47.50" y1="743.25" x2="48.50" y2="743.25" stroke="#999" stroke-width="0.80" />
<line x1="47.50" y1="740.19" x2="48.50" y2="740.19" stroke="#999" stroke-width="0.80" />
<line x1="47.50" y1="737.59" x2="48.50" y2="737.59" stroke="#999" stroke-width="0.80" />
<line x1="47.50" y1="735.35" x2="48.50" y2="735.35" stroke="#999" stroke-width="0.80" />
<line x1="47.50" y1="733.37" x2="48.50" y2="733.37" stroke="#999" stroke-width="0.80" />
<line x1="47.50" y1="796.09" x2="48.50" y2="796.09" stroke="#999" stroke-width="0.80" />
<line x1="47.50" y1="789.59" x2="48.50" y2="789.59" stroke="#999" stroke-width="0.80" />
<line x1="47.50" y1="784.98" x2="48.50" y2="784.98" stroke="#999" stroke-width="0.80" />
<line x1="47.50" y1="781.41" x2="48.50" y2="781.41" stroke="#999" stroke-width="0.80" />
<line x1="47.50" y1="778.49" x2="48.50" y2="778.49" stroke="#999" stroke-width="0.80" />
<line x1="47.50" y1="776.02" x2="48.50" y2="776.02" stroke="#999" stroke-width="0.80" />
<line x1="47.50" y1="773.88" x2="48.50" y2="773.88" stroke="#999" stroke-width="0.80" />
<line x1="47.50" y1="771.99" x2="48.50" y2="771.99" stroke="#999" stroke-width="0.80" />
<line x1="47.50" y1="833.20" x2="48.50" y2="833.20" stroke="#999" stroke-width="0.80" />
<line x1="47.50" y1="826.65" x2="48.50" y2="826.65" stroke="#999" stroke-width="0.80" />
<line x1="47.50" y1="822.00" x2="48.50" y2="822.00" stroke="#999" stroke-width="0.80" />
<line x1="47.50" y1="818.40" x2="48.50" y2="818.40" stroke="#999" stroke-width="0.80" />
<line x1="47.50" y1="815.45" x2="48.50" y2="815.45" stroke="#999" stroke-width="0.80" />
<line x1="47.50" y1="812.96" x2="48.50" y2="812.96" stroke="#999" stroke-width="0.80" />
<line x1="47.50" y1="810.81" x2="48.50" y2="810.81" stroke="#999" stroke-width="0.80" />
<line x1="47.50" y1="808.90" x2="48.50" y2="808.90" stroke="#999" stroke-width="0.80" />
<text transform="translate(18.60,734.60) scale(1.0000,1)" font-size="15.77" fill="#000"><tspan font-weight="normal" font-style="normal" y="-0.00">100</tspan></text>
<text transform="translate(28.02,775.80) scale(1.0000,1)" font-size="15.45" fill="#000"><tspan font-weight="normal" font-style="normal" y="-0.00">10</tspan></text>
<text transform="translate(35.79,812.20) scale(1.0000,1)" font-size="15.60" fill="#000"><tspan font-weight="normal" font-style="normal" y="-0.00">1</tspan></text>
<text transform="translate(22.37,850.00) scale(1.0000,1)" font-size="16.13" fill="#000"><tspan font-weight="normal" font-style="normal" y="-0.00">0.1</tspan></text>
<circle cx="59.20" cy="760.50" r="2.80" stroke="#000" stroke-width="1.35" fill="#fff"/>
<circle cx="68.50" cy="763.70" r="2.80" stroke="#000" stroke-width="1.35" fill="#fff"/>
<circle cx="54.30" cy="767.40" r="2.80" stroke="#000" stroke-width="1.35" fill="#fff"/>
<circle cx="62.10" cy="769.10" r="2.80" stroke="#000" stroke-width="1.35" fill="#fff"/>
<circle cx="71.10" cy="771.20" r="2.80" stroke="#000" stroke-width="1.35" fill="#fff"/>
<circle cx="56.90" cy="776.40" r="2.80" stroke="#000" stroke-width="1.35" fill="#fff"/>
<circle cx="75.70" cy="775.20" r="2.80" stroke="#000" stroke-width="1.35" fill="#fff"/>
<circle cx="65.60" cy="775.80" r="2.80" stroke="#000" stroke-width="1.35" fill="#fff"/>
<circle cx="60.00" cy="792.30" r="2.80" stroke="#000" stroke-width="1.35" fill="#fff"/>
<circle cx="66.70" cy="792.30" r="2.80" stroke="#000" stroke-width="1.35" fill="#fff"/>
<circle cx="67.30" cy="806.00" r="2.80" stroke="#000" stroke-width="1.35" fill="#fff"/>
<circle cx="67.30" cy="815.60" r="2.80" stroke="#000" stroke-width="1.35" fill="#fff"/>
<line x1="55.00" y1="775.50" x2="72.00" y2="775.50" stroke="#000" stroke-width="3.20" />
<circle cx="121.30" cy="778.70" r="2.80" stroke="#000" stroke-width="1.35" fill="#fff"/>
<circle cx="129.60" cy="780.50" r="2.80" stroke="#000" stroke-width="1.35" fill="#fff"/>
<circle cx="126.60" cy="795.60" r="2.80" stroke="#000" stroke-width="1.35" fill="#fff"/>
<circle cx="119.50" cy="798.50" r="2.80" stroke="#000" stroke-width="1.35" fill="#fff"/>
<circle cx="133.60" cy="797.60" r="2.80" stroke="#000" stroke-width="1.35" fill="#fff"/>
<circle cx="127.60" cy="804.70" r="2.80" stroke="#000" stroke-width="1.35" fill="#fff"/>
<circle cx="133.40" cy="811.70" r="2.80" stroke="#000" stroke-width="1.35" fill="#fff"/>
<circle cx="132.30" cy="822.20" r="2.80" stroke="#000" stroke-width="1.35" fill="#fff"/>
<circle cx="126.20" cy="827.20" r="2.80" stroke="#000" stroke-width="1.35" fill="#fff"/>
<circle cx="119.50" cy="833.90" r="2.80" stroke="#000" stroke-width="1.35" fill="#fff"/>
<circle cx="126.90" cy="845.10" r="2.80" stroke="#000" stroke-width="1.35" fill="#fff"/>
<line x1="118.80" y1="808.40" x2="133.00" y2="808.40" stroke="#000" stroke-width="3.20" />
<text transform="translate(80.63,781.30) scale(1.0000,1)" font-size="16.92" fill="#000"><tspan font-weight="normal" font-style="normal" y="-0.00">7.2</tspan></text>
<text transform="translate(142.19,815.80) scale(1.0000,1)" font-size="15.51" fill="#000"><tspan font-weight="normal" font-style="normal" y="-0.00">0.1</tspan></text>
<text transform="translate(47.60,863.00) scale(1.0000,1)" font-size="14.34" fill="#000"><tspan font-weight="normal" font-style="normal" y="-0.00">shRNA</tspan></text>
<text transform="translate(60.60,880.00) scale(1.0000,1)" font-size="15.32" fill="#000"><tspan font-weight="normal" font-style="normal" y="-0.00">ctrl</tspan></text>
<text transform="translate(104.10,863.00) scale(1.0000,1)" font-size="14.50" fill="#000"><tspan font-weight="normal" font-style="normal" y="-0.00">shRNA</tspan></text>
<text transform="translate(114.31,880.00) scale(1.0000,1)" font-size="15.18" fill="#000"><tspan font-weight="normal" font-style="italic" y="-0.00">tal1</tspan></text>
<text transform="translate(247.11,703.30) scale(1.0000,1)" font-size="16.30" fill="#000"><tspan font-weight="bold" font-style="normal" y="-0.00">B220</tspan></text>
<text transform="translate(231.59,727.00) scale(1.0000,1)" font-size="16.61" fill="#000"><tspan font-weight="normal" font-style="italic" y="-0.00">P</tspan><tspan font-weight="normal" font-style="normal" y="-0.00">&lt;.005</tspan></text>
<path d="M222.10,738.80 Q222.10,735.20 227.10,735.20 L258.00,735.20 Q262.50,735.20 262.50,731.60 Q262.50,735.20 267.00,735.20 L297.90,735.20 Q302.90,735.20 302.90,738.80" stroke="#000" stroke-width="1.60" fill="none"/>
<line x1="208.90" y1="732.10" x2="208.90" y2="845.30" stroke="#6a6a6a" stroke-width="1.00" />
<line x1="208.40" y1="844.80" x2="306.25" y2="844.80" stroke="#6a6a6a" stroke-width="1.00" />
<line x1="207.10" y1="732.30" x2="208.90" y2="732.30" stroke="#6a6a6a" stroke-width="1.00" />
<line x1="207.10" y1="770.30" x2="208.90" y2="770.30" stroke="#6a6a6a" stroke-width="1.00" />
<line x1="207.10" y1="807.60" x2="208.90" y2="807.60" stroke="#6a6a6a" stroke-width="1.00" />
<line x1="207.10" y1="844.80" x2="208.90" y2="844.80" stroke="#6a6a6a" stroke-width="1.00" />
<line x1="207.90" y1="758.86" x2="208.90" y2="758.86" stroke="#999" stroke-width="0.80" />
<line x1="207.90" y1="752.17" x2="208.90" y2="752.17" stroke="#999" stroke-width="0.80" />
<line x1="207.90" y1="747.42" x2="208.90" y2="747.42" stroke="#999" stroke-width="0.80" />
<line x1="207.90" y1="743.74" x2="208.90" y2="743.74" stroke="#999" stroke-width="0.80" />
<line x1="207.90" y1="740.73" x2="208.90" y2="740.73" stroke="#999" stroke-width="0.80" />
<line x1="207.90" y1="738.19" x2="208.90" y2="738.19" stroke="#999" stroke-width="0.80" />
<line x1="207.90" y1="735.98" x2="208.90" y2="735.98" stroke="#999" stroke-width="0.80" />
<line x1="207.90" y1="734.04" x2="208.90" y2="734.04" stroke="#999" stroke-width="0.80" />
<line x1="207.90" y1="796.37" x2="208.90" y2="796.37" stroke="#999" stroke-width="0.80" />
<line x1="207.90" y1="789.80" x2="208.90" y2="789.80" stroke="#999" stroke-width="0.80" />
<line x1="207.90" y1="785.14" x2="208.90" y2="785.14" stroke="#999" stroke-width="0.80" />
<line x1="207.90" y1="781.53" x2="208.90" y2="781.53" stroke="#999" stroke-width="0.80" />
<line x1="207.90" y1="778.57" x2="208.90" y2="778.57" stroke="#999" stroke-width="0.80" />
<line x1="207.90" y1="776.08" x2="208.90" y2="776.08" stroke="#999" stroke-width="0.80" />
<line x1="207.90" y1="773.91" x2="208.90" y2="773.91" stroke="#999" stroke-width="0.80" />
<line x1="207.90" y1="772.01" x2="208.90" y2="772.01" stroke="#999" stroke-width="0.80" />
<line x1="207.90" y1="833.60" x2="208.90" y2="833.60" stroke="#999" stroke-width="0.80" />
<line x1="207.90" y1="827.05" x2="208.90" y2="827.05" stroke="#999" stroke-width="0.80" />
<line x1="207.90" y1="822.40" x2="208.90" y2="822.40" stroke="#999" stroke-width="0.80" />
<line x1="207.90" y1="818.80" x2="208.90" y2="818.80" stroke="#999" stroke-width="0.80" />
<line x1="207.90" y1="815.85" x2="208.90" y2="815.85" stroke="#999" stroke-width="0.80" />
<line x1="207.90" y1="813.36" x2="208.90" y2="813.36" stroke="#999" stroke-width="0.80" />
<line x1="207.90" y1="811.21" x2="208.90" y2="811.21" stroke="#999" stroke-width="0.80" />
<line x1="207.90" y1="809.30" x2="208.90" y2="809.30" stroke="#999" stroke-width="0.80" />
<text transform="translate(177.81,734.80) scale(1.0000,1)" font-size="15.64" fill="#000"><tspan font-weight="normal" font-style="normal" y="-0.00">100</tspan></text>
<text transform="translate(186.73,775.50) scale(1.0000,1)" font-size="16.65" fill="#000"><tspan font-weight="normal" font-style="normal" y="-0.00">10</tspan></text>
<text transform="translate(195.59,812.50) scale(1.0000,1)" font-size="15.60" fill="#000"><tspan font-weight="normal" font-style="normal" y="-0.00">1</tspan></text>
<text transform="translate(181.65,850.00) scale(1.0000,1)" font-size="16.66" fill="#000"><tspan font-weight="normal" font-style="normal" y="-0.00">0.1</tspan></text>
<circle cx="222.10" cy="751.00" r="2.80" stroke="#000" stroke-width="1.35" fill="#fff"/>
<circle cx="230.20" cy="753.30" r="2.80" stroke="#000" stroke-width="1.35" fill="#fff"/>
<circle cx="224.40" cy="758.20" r="2.80" stroke="#000" stroke-width="1.35" fill="#fff"/>
<circle cx="216.50" cy="760.80" r="2.80" stroke="#000" stroke-width="1.35" fill="#fff"/>
<circle cx="233.60" cy="760.50" r="2.80" stroke="#000" stroke-width="1.35" fill="#fff"/>
<circle cx="241.00" cy="763.10" r="2.80" stroke="#000" stroke-width="1.35" fill="#fff"/>
<circle cx="217.70" cy="767.70" r="2.80" stroke="#000" stroke-width="1.35" fill="#fff"/>
<circle cx="225.80" cy="766.00" r="2.80" stroke="#000" stroke-width="1.35" fill="#fff"/>
<circle cx="216.00" cy="776.30" r="2.80" stroke="#000" stroke-width="1.35" fill="#fff"/>
<circle cx="221.20" cy="782.70" r="2.80" stroke="#000" stroke-width="1.35" fill="#fff"/>
<circle cx="228.70" cy="781.50" r="2.80" stroke="#000" stroke-width="1.35" fill="#fff"/>
<circle cx="235.90" cy="778.30" r="2.80" stroke="#000" stroke-width="1.35" fill="#fff"/>
<circle cx="227.50" cy="800.90" r="2.80" stroke="#000" stroke-width="1.35" fill="#fff"/>
<line x1="218.80" y1="765.40" x2="233.80" y2="765.40" stroke="#000" stroke-width="3.20" />
<circle cx="234.8" cy="795.4" r="0.6" fill="#555"/>
<circle cx="291.40" cy="753.10" r="2.80" stroke="#000" stroke-width="1.35" fill="#fff"/>
<circle cx="290.90" cy="775.20" r="2.80" stroke="#000" stroke-width="1.35" fill="#fff"/>
<circle cx="279.30" cy="788.90" r="2.80" stroke="#000" stroke-width="1.35" fill="#fff"/>
<circle cx="285.60" cy="785.80" r="2.80" stroke="#000" stroke-width="1.35" fill="#fff"/>
<circle cx="293.40" cy="784.80" r="2.80" stroke="#000" stroke-width="1.35" fill="#fff"/>
<circle cx="300.90" cy="785.40" r="2.80" stroke="#000" stroke-width="1.35" fill="#fff"/>
<circle cx="307.60" cy="782.10" r="2.80" stroke="#000" stroke-width="1.35" fill="#fff"/>
<circle cx="289.90" cy="790.40" r="2.80" stroke="#000" stroke-width="1.35" fill="#fff"/>
<circle cx="293.60" cy="799.50" r="2.80" stroke="#000" stroke-width="1.35" fill="#fff"/>
<circle cx="290.50" cy="811.60" r="2.80" stroke="#000" stroke-width="1.35" fill="#fff"/>
<circle cx="289.30" cy="822.80" r="2.80" stroke="#000" stroke-width="1.35" fill="#fff"/>
<circle cx="288.90" cy="834.30" r="2.80" stroke="#000" stroke-width="1.35" fill="#fff"/>
<circle cx="289.30" cy="845.50" r="2.80" stroke="#000" stroke-width="1.35" fill="#fff"/>
<line x1="284.30" y1="789.20" x2="298.90" y2="789.20" stroke="#000" stroke-width="3.20" />
<text transform="translate(246.85,770.40) scale(1.0000,1)" font-size="16.43" fill="#000"><tspan font-weight="normal" font-style="normal" y="-0.00">13.6</tspan></text>
<text transform="translate(311.50,796.90) scale(1.0000,1)" font-size="15.81" fill="#000"><tspan font-weight="normal" font-style="normal" y="-0.00">3.1</tspan></text>
<text transform="translate(206.60,863.00) scale(1.0000,1)" font-size="14.50" fill="#000"><tspan font-weight="normal" font-style="normal" y="-0.00">shRNA</tspan></text>
<text transform="translate(219.85,880.00) scale(1.0000,1)" font-size="15.32" fill="#000"><tspan font-weight="normal" font-style="normal" y="-0.00">ctrl</tspan></text>
<text transform="translate(263.34,863.00) scale(1.0000,1)" font-size="14.58" fill="#000"><tspan font-weight="normal" font-style="normal" y="-0.00">shRNA</tspan></text>
<text transform="translate(273.04,880.00) scale(1.0000,1)" font-size="15.68" fill="#000"><tspan font-weight="normal" font-style="italic" y="-0.00">tal1</tspan></text>
<circle cx="316.25" cy="857.5" r="0.6" fill="#555"/>
<text transform="translate(404.13,703.30) scale(1.0000,1)" font-size="16.22" fill="#000"><tspan font-weight="bold" font-style="normal" y="-0.00">CD3</tspan></text>
<text transform="translate(399.70,727.00) scale(1.0000,1)" font-size="16.39" fill="#000"><tspan font-weight="normal" font-style="italic" y="-0.00">P</tspan><tspan font-weight="normal" font-style="normal" y="-0.00">&lt;.005</tspan></text>
<path d="M389.40,738.60 Q389.40,735.00 394.40,735.00 L426.10,735.00 Q430.60,735.00 430.60,731.60 Q430.60,735.00 435.10,735.00 L465.20,735.00 Q470.20,735.00 470.20,738.60" stroke="#000" stroke-width="1.60" fill="none"/>
<line x1="379.00" y1="733.30" x2="379.00" y2="844.90" stroke="#6a6a6a" stroke-width="1.00" />
<line x1="378.50" y1="844.40" x2="476.25" y2="844.40" stroke="#6a6a6a" stroke-width="1.00" />
<line x1="377.20" y1="733.50" x2="379.00" y2="733.50" stroke="#6a6a6a" stroke-width="1.00" />
<line x1="377.20" y1="770.10" x2="379.00" y2="770.10" stroke="#6a6a6a" stroke-width="1.00" />
<line x1="377.20" y1="806.80" x2="379.00" y2="806.80" stroke="#6a6a6a" stroke-width="1.00" />
<line x1="377.20" y1="844.40" x2="379.00" y2="844.40" stroke="#6a6a6a" stroke-width="1.00" />
<line x1="378.00" y1="759.08" x2="379.00" y2="759.08" stroke="#999" stroke-width="0.80" />
<line x1="378.00" y1="752.64" x2="379.00" y2="752.64" stroke="#999" stroke-width="0.80" />
<line x1="378.00" y1="748.06" x2="379.00" y2="748.06" stroke="#999" stroke-width="0.80" />
<line x1="378.00" y1="744.52" x2="379.00" y2="744.52" stroke="#999" stroke-width="0.80" />
<line x1="378.00" y1="741.62" x2="379.00" y2="741.62" stroke="#999" stroke-width="0.80" />
<line x1="378.00" y1="739.17" x2="379.00" y2="739.17" stroke="#999" stroke-width="0.80" />
<line x1="378.00" y1="737.05" x2="379.00" y2="737.05" stroke="#999" stroke-width="0.80" />
<line x1="378.00" y1="735.17" x2="379.00" y2="735.17" stroke="#999" stroke-width="0.80" />
<line x1="378.00" y1="795.75" x2="379.00" y2="795.75" stroke="#999" stroke-width="0.80" />
<line x1="378.00" y1="789.29" x2="379.00" y2="789.29" stroke="#999" stroke-width="0.80" />
<line x1="378.00" y1="784.70" x2="379.00" y2="784.70" stroke="#999" stroke-width="0.80" />
<line x1="378.00" y1="781.15" x2="379.00" y2="781.15" stroke="#999" stroke-width="0.80" />
<line x1="378.00" y1="778.24" x2="379.00" y2="778.24" stroke="#999" stroke-width="0.80" />
<line x1="378.00" y1="775.78" x2="379.00" y2="775.78" stroke="#999" stroke-width="0.80" />
<line x1="378.00" y1="773.66" x2="379.00" y2="773.66" stroke="#999" stroke-width="0.80" />
<line x1="378.00" y1="771.78" x2="379.00" y2="771.78" stroke="#999" stroke-width="0.80" />
<line x1="378.00" y1="833.08" x2="379.00" y2="833.08" stroke="#999" stroke-width="0.80" />
<line x1="378.00" y1="826.46" x2="379.00" y2="826.46" stroke="#999" stroke-width="0.80" />
<line x1="378.00" y1="821.76" x2="379.00" y2="821.76" stroke="#999" stroke-width="0.80" />
<line x1="378.00" y1="818.12" x2="379.00" y2="818.12" stroke="#999" stroke-width="0.80" />
<line x1="378.00" y1="815.14" x2="379.00" y2="815.14" stroke="#999" stroke-width="0.80" />
<line x1="378.00" y1="812.62" x2="379.00" y2="812.62" stroke="#999" stroke-width="0.80" />
<line x1="378.00" y1="810.44" x2="379.00" y2="810.44" stroke="#999" stroke-width="0.80" />
<line x1="378.00" y1="808.52" x2="379.00" y2="808.52" stroke="#999" stroke-width="0.80" />
<text transform="translate(346.97,734.80) scale(1.0000,1)" font-size="16.16" fill="#000"><tspan font-weight="normal" font-style="normal" y="-0.00">100</tspan></text>
<text transform="translate(355.99,775.50) scale(1.0000,1)" font-size="15.85" fill="#000"><tspan font-weight="normal" font-style="normal" y="-0.00">10</tspan></text>
<text transform="translate(363.99,812.00) scale(1.0000,1)" font-size="15.60" fill="#000"><tspan font-weight="normal" font-style="normal" y="-0.00">1</tspan></text>
<text transform="translate(350.58,850.00) scale(1.0000,1)" font-size="15.90" fill="#000"><tspan font-weight="normal" font-style="normal" y="-0.00">0.1</tspan></text>
<circle cx="388.30" cy="755.00" r="2.80" stroke="#000" stroke-width="1.35" fill="#fff"/>
<circle cx="396.10" cy="752.50" r="2.80" stroke="#000" stroke-width="1.35" fill="#fff"/>
<circle cx="403.80" cy="750.60" r="2.80" stroke="#000" stroke-width="1.35" fill="#fff"/>
<circle cx="411.00" cy="754.40" r="2.80" stroke="#000" stroke-width="1.35" fill="#fff"/>
<circle cx="396.70" cy="762.50" r="2.80" stroke="#000" stroke-width="1.35" fill="#fff"/>
<circle cx="404.40" cy="760.20" r="2.80" stroke="#000" stroke-width="1.35" fill="#fff"/>
<circle cx="399.80" cy="770.60" r="2.80" stroke="#000" stroke-width="1.35" fill="#fff"/>
<circle cx="389.40" cy="780.60" r="2.80" stroke="#000" stroke-width="1.35" fill="#fff"/>
<circle cx="396.90" cy="782.70" r="2.80" stroke="#000" stroke-width="1.35" fill="#fff"/>
<circle cx="403.80" cy="778.70" r="2.80" stroke="#000" stroke-width="1.35" fill="#fff"/>
<circle cx="403.80" cy="787.30" r="2.80" stroke="#000" stroke-width="1.35" fill="#fff"/>
<circle cx="395.80" cy="796.30" r="2.80" stroke="#000" stroke-width="1.35" fill="#fff"/>
<circle cx="403.30" cy="795.20" r="2.80" stroke="#000" stroke-width="1.35" fill="#fff"/>
<line x1="392.30" y1="770.60" x2="407.00" y2="770.60" stroke="#000" stroke-width="3.60" />
<circle cx="399.8" cy="770.6" r="3.3" fill="#000"/>
<circle cx="456.20" cy="747.00" r="2.80" stroke="#000" stroke-width="1.35" fill="#fff"/>
<circle cx="455.60" cy="764.90" r="2.80" stroke="#000" stroke-width="1.35" fill="#fff"/>
<circle cx="454.90" cy="785.10" r="2.80" stroke="#000" stroke-width="1.35" fill="#fff"/>
<circle cx="448.80" cy="790.50" r="2.80" stroke="#000" stroke-width="1.35" fill="#fff"/>
<circle cx="452.90" cy="798.10" r="2.80" stroke="#000" stroke-width="1.35" fill="#fff"/>
<circle cx="460.70" cy="796.80" r="2.80" stroke="#000" stroke-width="1.35" fill="#fff"/>
<circle cx="468.80" cy="798.10" r="2.80" stroke="#000" stroke-width="1.35" fill="#fff"/>
<circle cx="455.60" cy="812.70" r="2.80" stroke="#000" stroke-width="1.35" fill="#fff"/>
<circle cx="454.20" cy="825.10" r="2.80" stroke="#000" stroke-width="1.35" fill="#fff"/>
<circle cx="464.70" cy="828.20" r="2.80" stroke="#000" stroke-width="1.35" fill="#fff"/>
<circle cx="458.30" cy="831.80" r="2.80" stroke="#000" stroke-width="1.35" fill="#fff"/>
<circle cx="458.90" cy="843.00" r="2.80" stroke="#000" stroke-width="1.35" fill="#fff"/>
<line x1="451.50" y1="797.90" x2="467.00" y2="797.90" stroke="#000" stroke-width="3.20" />
<text transform="translate(408.33,776.20) scale(1.0000,1)" font-size="16.63" fill="#000"><tspan font-weight="normal" font-style="normal" y="-0.00">10.5</tspan></text>
<text transform="translate(472.73,802.70) scale(1.0000,1)" font-size="16.69" fill="#000"><tspan font-weight="normal" font-style="normal" y="-0.00">1.6</tspan></text>
<text transform="translate(380.11,863.00) scale(1.0000,1)" font-size="14.18" fill="#000"><tspan font-weight="normal" font-style="normal" y="-0.00">shRNA</tspan></text>
<text transform="translate(393.10,880.00) scale(1.0000,1)" font-size="15.32" fill="#000"><tspan font-weight="normal" font-style="normal" y="-0.00">ctrl</tspan></text>
<text transform="translate(437.61,863.00) scale(1.0000,1)" font-size="14.02" fill="#000"><tspan font-weight="normal" font-style="normal" y="-0.00">shRNA</tspan></text>
<text transform="translate(445.52,880.00) scale(1.0000,1)" font-size="16.02" fill="#000"><tspan font-weight="normal" font-style="italic" y="-0.00">tal1</tspan></text>
</svg>
</body></html>
